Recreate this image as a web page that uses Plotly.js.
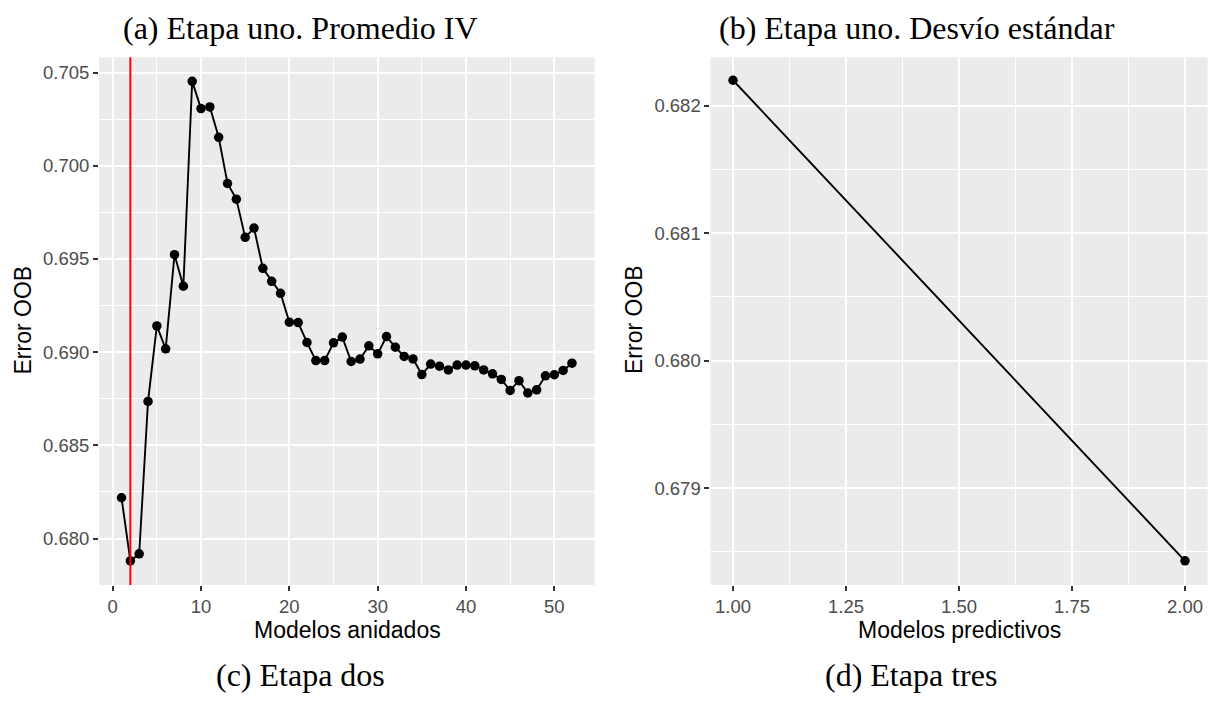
<!DOCTYPE html>
<html>
<head>
<meta charset="utf-8">
<script src="https://cdn.plot.ly/plotly-3.0.1.min.js"></script>
<style>
  html, body { margin: 0; padding: 0; background: #ffffff; }
  #chart { width: 1208px; height: 702px; }
</style>
</head>
<body>
<div id="chart"></div>
<script>
// ---- Data ----
const modelosAnidados = [1,2,3,4,5,6,7,8,9,10,11,12,13,14,15,16,17,18,19,20,21,22,23,24,25,26,
                         27,28,29,30,31,32,33,34,35,36,37,38,39,40,41,42,43,44,45,46,47,48,49,50,51,52];
const errorOOBDos = [0.68219,0.67880,0.67918,0.68736,0.69141,0.69018,0.69523,0.69354,0.70453,0.70307,
                     0.70316,0.70153,0.69905,0.69821,0.69616,0.69666,0.69450,0.69380,0.69316,0.69161,
                     0.69159,0.69052,0.68955,0.68955,0.69050,0.69081,0.68950,0.68963,0.69034,0.68991,
                     0.69084,0.69027,0.68977,0.68964,0.68880,0.68936,0.68925,0.68905,0.68931,0.68931,
                     0.68927,0.68905,0.68884,0.68854,0.68795,0.68847,0.68781,0.68798,0.68873,0.68879,
                     0.68902,0.68941];
const modeloSeleccionado = 2;

const modelosPredictivos = [1, 2];
const errorOOBTres = [0.68220, 0.67843];

const captionA = "(a) Etapa uno. Promedio IV";
const captionB = "(b) Etapa uno. Desvío estándar";
const captionC = "(c) Etapa dos";
const captionD = "(d) Etapa tres";
const xTitleC = "Modelos anidados";
const xTitleD = "Modelos predictivos";
const yTitle = "Error OOB";

// ---- Layout helpers ----
const W = 1208, H = 702;
const px = v => v / W;
const py = v => 1 - v / H;

const SANS = "Liberation Sans, Arial, sans-serif";
const SERIF = "Liberation Serif, Times New Roman, serif";
const BG = "#EBEBEB";

function axisBase(extra) {
  return Object.assign({
    showgrid: true, gridcolor: "#FFFFFF", gridwidth: 2.1,
    zeroline: false, showline: false,
    ticks: "outside", ticklen: 5, tickwidth: 2, tickcolor: "#333333",
    tickfont: { family: SANS, size: 18.5, color: "#4D4D4D" },
    fixedrange: true
  }, extra);
}

const traces = [
  {
    x: modelosAnidados, y: errorOOBDos, xaxis: "x", yaxis: "y",
    type: "scatter", mode: "lines+markers",
    line: { color: "#000000", width: 1.9 },
    marker: { color: "#000000", size: 9.5 },
    hoverinfo: "skip", showlegend: false
  },
  {
    x: modelosPredictivos, y: errorOOBTres, xaxis: "x2", yaxis: "y2",
    type: "scatter", mode: "lines+markers",
    line: { color: "#000000", width: 1.9 },
    marker: { color: "#000000", size: 9.5 },
    hoverinfo: "skip", showlegend: false
  }
];

const yDom = [py(585), py(57.3)];

const layout = {
  width: W, height: H,
  margin: { l: 0, r: 0, t: 0, b: 0, pad: 0 },
  paper_bgcolor: "#FFFFFF",
  plot_bgcolor: BG,
  showlegend: false,
  xaxis: axisBase({
    domain: [px(99), px(594.5)], range: [-1.55, 54.55],
    tickmode: "linear", tick0: 0, dtick: 10,
    minor: { tick0: 0, dtick: 5, showgrid: true, gridcolor: "#FFFFFF", gridwidth: 1, ticks: "" },
    anchor: "y"
  }),
  yaxis: axisBase({
    domain: yDom, range: [0.67751, 0.70582],
    tickmode: "linear", tick0: 0.68, dtick: 0.005, tickformat: ".3f",
    minor: { tick0: 0.68, dtick: 0.0025, showgrid: true, gridcolor: "#FFFFFF", gridwidth: 1, ticks: "" },
    anchor: "x"
  }),
  xaxis2: axisBase({
    domain: [px(710.4), px(1207.6)], range: [0.95, 2.05],
    tickmode: "linear", tick0: 1, dtick: 0.25, tickformat: ".2f",
    minor: { tick0: 1, dtick: 0.125, showgrid: true, gridcolor: "#FFFFFF", gridwidth: 1, ticks: "" },
    anchor: "y2"
  }),
  yaxis2: axisBase({
    domain: yDom, range: [0.67824, 0.68238],
    tickmode: "linear", tick0: 0.679, dtick: 0.001, tickformat: ".3f",
    minor: { tick0: 0.679, dtick: 0.0005, showgrid: true, gridcolor: "#FFFFFF", gridwidth: 1, ticks: "" },
    anchor: "x2"
  }),
  shapes: [
    {
      type: "line", xref: "x", yref: "y domain",
      x0: modeloSeleccionado, x1: modeloSeleccionado, y0: 0, y1: 1,
      line: { color: "#FF0000", width: 2 }, layer: "above"
    }
  ],
  annotations: [
    { text: captionA, x: px(300), y: py(28), xref: "paper", yref: "paper",
      xanchor: "center", yanchor: "middle", showarrow: false,
      font: { family: SERIF, size: 32, color: "#000000" } },
    { text: captionB, x: px(917), y: py(28), xref: "paper", yref: "paper",
      xanchor: "center", yanchor: "middle", showarrow: false,
      font: { family: SERIF, size: 32, color: "#000000" } },
    { text: captionC, x: px(300), y: py(675), xref: "paper", yref: "paper",
      xanchor: "center", yanchor: "middle", showarrow: false,
      font: { family: SERIF, size: 32, color: "#000000" } },
    { text: captionD, x: px(911), y: py(675), xref: "paper", yref: "paper",
      xanchor: "center", yanchor: "middle", showarrow: false,
      font: { family: SERIF, size: 32, color: "#000000" } },
    { text: xTitleC, x: px(348), y: py(630), xref: "paper", yref: "paper",
      xanchor: "center", yanchor: "middle", showarrow: false,
      font: { family: SANS, size: 23, color: "#000000" } },
    { text: xTitleD, x: px(959), y: py(630), xref: "paper", yref: "paper",
      xanchor: "center", yanchor: "middle", showarrow: false,
      font: { family: SANS, size: 23, color: "#000000" } },
    { text: yTitle, x: px(22.5), y: py(320), xref: "paper", yref: "paper",
      xanchor: "center", yanchor: "middle", showarrow: false, textangle: -90,
      font: { family: SANS, size: 23, color: "#000000" } },
    { text: yTitle, x: px(634), y: py(320), xref: "paper", yref: "paper",
      xanchor: "center", yanchor: "middle", showarrow: false, textangle: -90,
      font: { family: SANS, size: 23, color: "#000000" } }
  ]
};

Plotly.newPlot("chart", traces, layout, { staticPlot: true, displayModeBar: false });
</script>
</body>
</html>
